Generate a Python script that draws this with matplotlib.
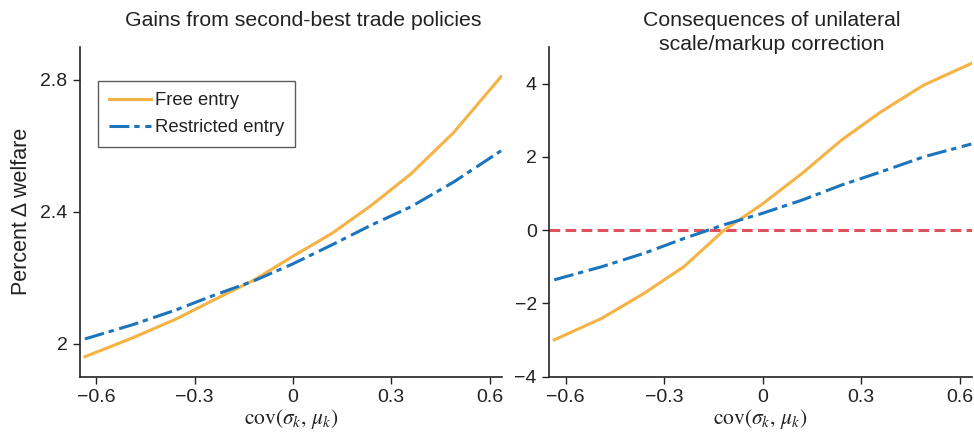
import matplotlib
matplotlib.use("Agg")
import matplotlib.pyplot as plt

plt.rcParams['font.family'] = ['Liberation Sans', 'DejaVu Sans']
plt.rcParams['mathtext.fontset'] = 'stix'
plt.rcParams['axes.unicode_minus'] = True

# Data
cov = [-0.635, -0.49, -0.36, -0.24, -0.12, 0.0, 0.12, 0.24, 0.36, 0.49, 0.635]
gains_free = [1.960, 2.017, 2.073, 2.133, 2.192, 2.265, 2.335, 2.42, 2.515, 2.64, 2.81]
gains_restricted = [2.014, 2.057, 2.101, 2.147, 2.19, 2.242, 2.30, 2.36, 2.415, 2.49, 2.585]
cons_free = [-3.0, -2.41, -1.72, -1.0, -0.02, 0.72, 1.55, 2.46, 3.23, 3.96, 4.55]
cons_restricted = [-1.36, -1.0, -0.63, -0.23, 0.14, 0.46, 0.82, 1.23, 1.59, 2.0, 2.35]
zero_line = 0.0

series_labels = ["Free entry", "Restricted entry"]
titles = ["Gains from second-best trade policies",
          "Consequences of unilateral\nscale/markup correction"]
xticks = [-0.6, -0.3, 0.0, 0.3, 0.6]
xticklabels = ["\u22120.6", "\u22120.3", "0", "0.3", "0.6"]
left_yticks = [2.0, 2.4, 2.8]
left_yticklabels = ["2", "2.4", "2.8"]
right_yticks = [-4, -2, 0, 2, 4]
right_yticklabels = ["\u22124", "\u22122", "0", "2", "4"]
xlabel = r"$\mathrm{cov}(\sigma_k,\,\mu_k)$"
ylabel = "Percent \u0394 welfare"

ORANGE = "#F6B244"
BLUE = "#1B75BC"
RED = "#E0515E"
TXT = "#222222"

W, H = 974, 432
fig = plt.figure(figsize=(W / 100, H / 100), dpi=100)
ax1 = fig.add_axes([80 / W, 1 - 376.5 / H, 422 / W, 329.5 / H])
ax2 = fig.add_axes([549.3 / W, 1 - 376.5 / H, 423 / W, 329.5 / H])

lw = 2.2
dashdot = (0, (6.5, 1.6, 1.75, 1.85))

ax1.plot(cov, gains_free, color=ORANGE, lw=lw, label=series_labels[0])
ax1.plot(cov, gains_restricted, color=BLUE, lw=lw, linestyle=dashdot, label=series_labels[1])
ax1.set_ylim(1.9, 2.9)
ax1.set_yticks(left_yticks)
ax1.set_yticklabels(left_yticklabels)
ax1.set_ylabel(ylabel, fontsize=15.5, color=TXT, labelpad=6)

ax2.axhline(zero_line, color=RED, lw=lw, linestyle=(0, (3.5, 1.75)))
ax2.plot(cov, cons_free, color=ORANGE, lw=lw)
ax2.plot(cov, cons_restricted, color=BLUE, lw=lw, linestyle=dashdot)
ax2.set_ylim(-4, 5)
ax2.set_yticks(right_yticks)
ax2.set_yticklabels(right_yticklabels)

for ax in [ax1, ax2]:
    ax.set_xlim(-0.65, 0.638)
    ax.set_xticks(xticks)
    ax.set_xticklabels(xticklabels)
    ax.set_xlabel(xlabel, fontsize=15.5, color=TXT, labelpad=1)
    for s in ["top", "right"]:
        ax.spines[s].set_visible(False)
    for s in ["left", "bottom"]:
        ax.spines[s].set_color(TXT)
        ax.spines[s].set_linewidth(1.2)
    ax.tick_params(axis='both', direction='out', length=5, width=1.0, color=TXT,
                   labelsize=14, labelcolor=TXT, pad=4)

fig.text(303.5 / W, 1 - 11 / H, titles[0], ha='center', va='top',
         fontsize=15.3, color=TXT)
fig.text(772 / W, 1 - 11 / H, titles[1], ha='center', va='top',
         fontsize=15.3, color=TXT, linespacing=1.35, multialignment='center')

leg = ax1.legend(loc='upper left', bbox_to_anchor=(0.043, 0.897), borderaxespad=0,
                 fontsize=13.3, frameon=True, fancybox=False, handlelength=2.27,
                 handletextpad=0.2, labelspacing=0.55, borderpad=0.6)
leg.get_frame().set_edgecolor("#333333")
leg.get_frame().set_linewidth(1.0)
for txt in leg.get_texts():
    txt.set_color(TXT)

fig.savefig("out.png", dpi=100)
